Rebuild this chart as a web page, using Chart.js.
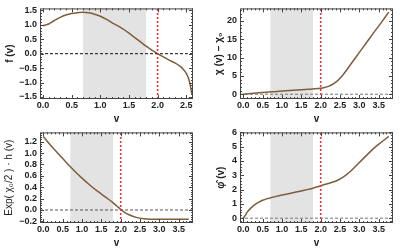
<!DOCTYPE html>
<html lang="en">
<head>
<meta charset="UTF-8">
<script src="https://cdn.jsdelivr.net/npm/chart.js"></script>
<title>Four panels</title>
<style>
  body { margin: 0; background: #fff; }
  .panel { position: absolute; width: 200px; height: 124px; }
</style>
</head>
<body>
<div class="panel" style="left:0;top:0"><canvas id="c1" width="200" height="124"></canvas></div>
<div class="panel" style="left:200px;top:0"><canvas id="c2" width="200" height="124"></canvas></div>
<div class="panel" style="left:0;top:124px"><canvas id="c3" width="200" height="124"></canvas></div>
<div class="panel" style="left:200px;top:124px"><canvas id="c4" width="200" height="124"></canvas></div>
<script>
// values
const vF = [0, 0.1, 0.2, 0.3, 0.4, 0.5, 0.6, 0.7, 0.8, 0.9, 1.0, 1.1, 1.2, 1.3, 1.4, 1.5, 1.6, 1.7, 1.8, 1.9, 2.0, 2.1, 2.2, 2.3, 2.4, 2.45, 2.5, 2.55, 2.6];
const fVals = [0.97, 1.03, 1.15, 1.26, 1.34, 1.39, 1.42, 1.44, 1.42, 1.37, 1.30, 1.20, 1.08, 0.97, 0.85, 0.71, 0.56, 0.41, 0.26, 0.12, 0.0, -0.11, -0.22, -0.32, -0.45, -0.55, -0.68, -0.92, -1.42];

const vChi = [0, 0.2, 0.4, 0.6, 0.8, 1.0, 1.2, 1.4, 1.6, 1.8, 2.0, 2.1, 2.2, 2.3, 2.4, 2.5, 2.6, 2.7, 2.8, 3.0, 3.2, 3.4, 3.6, 3.76];
const chiVals = [0, 0.2, 0.38, 0.55, 0.7, 0.85, 1.0, 1.15, 1.3, 1.45, 1.65, 1.85, 2.15, 2.65, 3.35, 4.35, 5.6, 7.0, 8.5, 11.4, 14.3, 17.2, 20.0, 22.4];

const vH = [0, 0.2, 0.4, 0.6, 0.8, 1.0, 1.2, 1.4, 1.6, 1.8, 1.9, 2.0, 2.1, 2.2, 2.4, 2.6, 2.8, 3.0, 3.4, 3.76];
const hVals = [1.29, 1.13, 0.98, 0.83, 0.69, 0.56, 0.44, 0.33, 0.23, 0.13, 0.07, 0.01, -0.04, -0.08, -0.13, -0.155, -0.163, -0.165, -0.165, -0.165];

const vPhi = [0, 0.05, 0.1, 0.2, 0.3, 0.4, 0.5, 0.6, 0.7, 0.8, 1.0, 1.2, 1.4, 1.6, 1.8, 2.0, 2.2, 2.4, 2.6, 2.8, 3.0, 3.2, 3.4, 3.6, 3.76];
const phiVals = [0, 0.2, 0.42, 0.72, 0.95, 1.12, 1.25, 1.35, 1.42, 1.49, 1.62, 1.73, 1.85, 1.97, 2.10, 2.27, 2.43, 2.6, 2.9, 3.35, 3.9, 4.43, 4.95, 5.38, 5.72];

const shadeFrom = 0.7, shadeTo = 1.8;
const markerV = 2.0;

const curveColor = '#7d5d3c';
const tickFont = { family: 'Arial, "Liberation Sans", sans-serif', size: 9, weight: 'bold' };

// gray band and frame with inward ticks (Mathematica style)
const shadePlugin = {
  id: 'shade',
  beforeDatasetsDraw(chart) {
    const a = chart.chartArea, x = chart.scales.x;
    const ctx = chart.ctx;
    ctx.save();
    ctx.fillStyle = '#e3e3e3';
    const x0 = x.getPixelForValue(shadeFrom), x1 = x.getPixelForValue(shadeTo);
    ctx.fillRect(x0, a.top, x1 - x0, a.bottom - a.top);
    ctx.restore();
  }
};

const framePlugin = {
  id: 'frame',
  afterDraw(chart, args, opts) {
    const a = chart.chartArea, ctx = chart.ctx;
    const xs = chart.scales.x, ys = chart.scales.y;
    ctx.save();
    ctx.strokeStyle = '#444';
    ctx.lineWidth = 1;
    ctx.strokeRect(a.left + 0.5, a.top + 0.5, a.right - a.left - 1, a.bottom - a.top - 1);
    ctx.beginPath();
    const doTicks = (scale, step, horiz) => {
      const minor = step / 5;
      const start = Math.ceil(scale.min / minor - 1e-6);
      for (let i = start; i * minor <= scale.max + 1e-9; i++) {
        const v = i * minor;
        const major = Math.abs(v / step - Math.round(v / step)) < 1e-6;
        const len = major ? 4 : 2;
        const p = Math.round(scale.getPixelForValue(v)) + 0.5;
        if (horiz) {
          ctx.moveTo(p, a.bottom); ctx.lineTo(p, a.bottom - len);
          ctx.moveTo(p, a.top); ctx.lineTo(p, a.top + len);
        } else {
          ctx.moveTo(a.left, p); ctx.lineTo(a.left + len, p);
          ctx.moveTo(a.right, p); ctx.lineTo(a.right - len, p);
        }
      }
    };
    doTicks(xs, opts.xStep, true);
    doTicks(ys, opts.yStep, false);
    ctx.stroke();
    ctx.restore();
  }
};

function makePanel(id, vs, ys, xr, yr, xStep, yStep, yTitle, titlePad, titleWeight, zeroColor) {
  const curve = vs.map((v, i) => ({ x: v, y: ys[i] }));
  new Chart(document.getElementById(id), {
    type: 'line',
    data: {
      datasets: [
        {
          data: [{ x: markerV, y: yr[0] }, { x: markerV, y: yr[1] }],
          borderColor: '#ff2a2a', borderWidth: 1.5, borderDash: [2, 2], pointRadius: 0
        },
        {
          data: [{ x: xr[0], y: 0 }, { x: xr[1], y: 0 }],
          borderColor: zeroColor, borderWidth: 1, borderDash: [3, 2], pointRadius: 0
        },
        {
          data: curve,
          borderColor: curveColor, borderWidth: 1.5, pointRadius: 0,
          cubicInterpolationMode: 'monotone'
        }
      ]
    },
    options: {
      responsive: false,
      animation: false,
      devicePixelRatio: 1,
      layout: { padding: { top: 5, right: 7, left: 0, bottom: 0 } },
      plugins: {
        legend: { display: false },
        tooltip: { enabled: false },
        frame: { xStep: xStep, yStep: yStep }
      },
      scales: {
        x: {
          type: 'linear', min: xr[0], max: xr[1],
          grid: { display: false, drawTicks: false },
          border: { display: false },
          ticks: {
            stepSize: xStep, includeBounds: false, padding: 1, color: '#222', font: tickFont,
            maxRotation: 0, autoSkip: false,
            callback: v => v.toFixed(1)
          },
          title: {
            display: true, text: 'v', color: '#222', padding: { top: 0, bottom: 0 },
            font: { family: 'Arial, "Liberation Sans", sans-serif', size: 10, weight: 'bold', lineHeight: 1 }
          },
          afterFit(scale) { scale.height = 25; }
        },
        y: {
          type: 'linear', min: yr[0], max: yr[1],
          grid: { display: false, drawTicks: false },
          border: { display: false },
          ticks: {
            stepSize: yStep, includeBounds: false, padding: 3, color: '#222', font: tickFont,
            autoSkip: false,
            callback: v => (yStep < 1 ? v.toFixed(1) : v.toFixed(0)).replace('-', '\u2212')
          },
          title: {
            display: true, text: yTitle, color: '#222', padding: { top: titlePad, bottom: 0 },
            font: { family: 'Arial, "Liberation Sans", sans-serif', size: 10, weight: titleWeight, lineHeight: 1.2 }
          },
          afterFit(scale) { scale.width = 40; }
        }
      }
    },
    plugins: [shadePlugin, framePlugin]
  });
}

makePanel('c1', vF, fVals, [-0.052, 2.617], [-1.57, 1.57], 0.5, 0.5, 'f (v)', 4, 'bold', '#111');
makePanel('c2', vChi, chiVals, [-0.086, 3.87], [-1.3, 23.4], 0.5, 5, '\u03c7 (v) \u2212 \u03c7\u2080', 13, 'bold', '#777');
makePanel('c3', vH, hVals, [-0.086, 3.87], [-0.229, 1.364], 0.5, 0.2, 'Exp( \u03c7\u2080/2 ) \u00b7 h (v)', 3, 'normal', '#555');
makePanel('c4', vPhi, phiVals, [-0.086, 3.87], [-0.337, 6.0], 0.5, 1, '\u03c6\u0302 (v)', 15, 'bold', '#777');
</script>
</body>
</html>
